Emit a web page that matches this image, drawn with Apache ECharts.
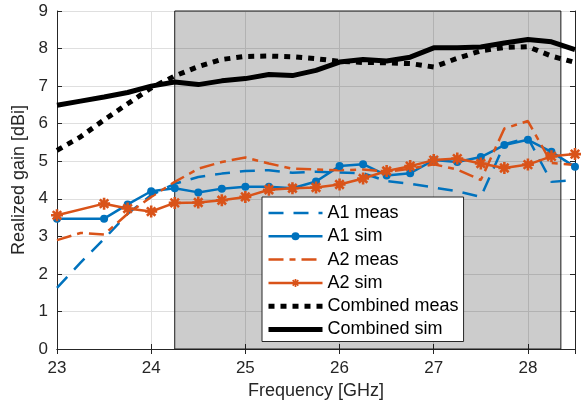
<!DOCTYPE html>
<html>
<head>
<meta charset="utf-8">
<script src="https://cdn.jsdelivr.net/npm/echarts@6/dist/echarts.min.js"></script>
<style>
  html, body { margin: 0; padding: 0; background: #fff; }
  #main { width: 582px; height: 406px; }
</style>
</head>
<body>
<div id="main"></div>
<script>
// frequency grids (GHz)
var freqMeas = [23, 23.25, 23.5, 23.75, 24, 24.25, 24.5, 24.75, 25, 25.25, 25.5, 25.75,
                26, 26.25, 26.5, 26.75, 27, 27.25, 27.5, 27.75, 28, 28.25, 28.5];
var freqSim = [23, 23.5, 23.75, 24, 24.25, 24.5, 24.75, 25, 25.25, 25.5, 25.75,
               26, 26.25, 26.5, 26.75, 27, 27.25, 27.5, 27.75, 28, 28.25, 28.5];

// realized gain (dBi)
var a1Meas = [1.63, 2.3, 2.93, 3.6, 4.1, 4.4, 4.58, 4.67, 4.74, 4.76, 4.69, 4.72,
              4.7, 4.68, 4.47, 4.4, 4.3, 4.2, 4.05, 5.45, 5.62, 4.45, 4.5];
var a1Sim = [3.47, 3.47, 3.85, 4.2, 4.28, 4.17, 4.27, 4.32, 4.32, 4.28, 4.46,
             4.87, 4.92, 4.62, 4.68, 5.03, 4.98, 5.11, 5.43, 5.57, 5.25, 4.85];
var a2Meas = [2.9, 3.09, 3.05, 3.6, 4.05, 4.45, 4.8, 4.98, 5.1, 4.94, 4.8, 4.78,
              4.76, 4.78, 4.72, 4.8, 4.92, 4.78, 4.5, 5.87, 6.07, 4.95, 4.9];
var a2Sim = [3.56, 3.87, 3.74, 3.66, 3.89, 3.9, 3.96, 4.05, 4.24, 4.28, 4.3,
             4.38, 4.54, 4.74, 4.87, 5.03, 5.07, 4.94, 4.82, 4.91, 5.13, 5.19];
var combMeas = [5.29, 5.65, 6.1, 6.53, 6.95, 7.27, 7.52, 7.71, 7.79, 7.8, 7.78, 7.73,
                7.66, 7.63, 7.62, 7.6, 7.51, 7.74, 7.94, 8.03, 8.05, 7.8, 7.63];
var combSim = [6.49, 6.6, 6.71, 6.83, 7.0, 7.11, 7.04, 7.14, 7.2, 7.31, 7.28, 7.42,
               7.64, 7.71, 7.67, 7.77, 8.02, 8.02, 8.04, 8.15, 8.24, 8.18, 7.97];

// shaded band (GHz)
var bandStart = 24.25, bandEnd = 28.35;

var blue = '#0072BD', orange = '#D95319', ink = '#262626';
var font = 'Liberation Sans, Arial, Helvetica, sans-serif';

// asterisk marker like MATLAB '*'
var starPath = 'path://M-1.3,-6L1.3,-6L1.3,6L-1.3,6Z M-6,-1.3L6,-1.3L6,1.3L-6,1.3Z ' +
  'M-3.32,-5.16L5.16,3.32L3.32,5.16L-5.16,-3.32Z M3.32,-5.16L5.16,-3.32L-3.32,5.16L-5.16,3.32Z';

function pairs(xs, ys) {
  var out = [];
  for (var i = 0; i < xs.length; i++) out.push([xs[i], ys[i]]);
  return out;
}

// legend entry without a marker (line only)
var noMarker = { color: 'rgba(0,0,0,0)', opacity: 0, borderWidth: 0 };

var chart = echarts.init(document.getElementById('main'));

var option = {
  animation: false,
  textStyle: { fontFamily: font },
  grid: { left: 57, right: 7, top: 11, bottom: 57, containLabel: false },
  legend: {
    orient: 'vertical',
    left: 262, top: 197,
    padding: [7, 5, 3, 4],
    backgroundColor: '#fff',
    borderColor: ink, borderWidth: 1, borderRadius: 0,
    itemWidth: 54, itemHeight: 10, itemGap: 5.3,
    textStyle: { fontFamily: font, fontSize: 18, color: '#000' },
    data: [
      { name: 'A1 meas', itemStyle: noMarker, lineStyle: { width: 2.5 } },
      { name: 'A1 sim', lineStyle: { width: 2.5 } },
      { name: 'A2 meas', itemStyle: noMarker, lineStyle: { width: 2.5 } },
      { name: 'A2 sim', lineStyle: { width: 2.5 } },
      { name: 'Combined meas', itemStyle: noMarker, lineStyle: { width: 5 } },
      { name: 'Combined sim', itemStyle: noMarker, lineStyle: { width: 5 } }
    ]
  },
  xAxis: [{
    type: 'value', min: 23, max: 28.5, interval: 1,
    name: 'Frequency [GHz]', nameLocation: 'middle', nameGap: 24,
    nameTextStyle: { fontFamily: font, fontSize: 18, color: ink },
    axisLine: { lineStyle: { color: ink, width: 1 } },
    axisTick: { inside: true, length: 5, lineStyle: { color: ink } },
    axisLabel: {
      fontFamily: font, fontSize: 17, color: ink, margin: 11,
      formatter: function (v) { return v % 1 === 0 ? String(v) : ''; }
    },
    splitLine: { show: true, lineStyle: { color: '#dfdfdf', width: 1 } }
  }, {
    type: 'value', position: 'top', min: 23, max: 28.5, interval: 1,
    axisLine: { show: true, lineStyle: { color: ink, width: 1 } },
    axisTick: { show: true, inside: true, length: 5, lineStyle: { color: ink } },
    axisLabel: { show: false }, splitLine: { show: false }
  }],
  yAxis: [{
    type: 'value', min: 0, max: 9, interval: 1,
    name: 'Realized gain [dBi]', nameLocation: 'middle', nameGap: 20,
    nameTextStyle: { fontFamily: font, fontSize: 18, color: ink },
    axisLine: { show: true, lineStyle: { color: ink, width: 1 } },
    axisTick: { show: true, inside: true, length: 5, lineStyle: { color: ink } },
    axisLabel: { fontFamily: font, fontSize: 17, color: ink, margin: 9 },
    splitLine: { show: true, lineStyle: { color: '#dfdfdf', width: 1 } }
  }, {
    type: 'value', position: 'right', min: 0, max: 9, interval: 1,
    axisLine: { show: true, lineStyle: { color: ink, width: 1 } },
    axisTick: { show: true, inside: true, length: 5, lineStyle: { color: ink } },
    axisLabel: { show: false }, splitLine: { show: false }
  }],
  series: [
    {
      name: 'band', type: 'line', data: [], z: 1, silent: true,
      markArea: {
        silent: true,
        itemStyle: { color: 'rgba(0,0,0,0.2)', borderColor: '#1a1a1a', borderWidth: 1 },
        data: [[{ xAxis: bandStart }, { xAxis: bandEnd }]]
      }
    },
    {
      name: 'A1 meas', type: 'line', z: 3, symbol: 'none', showSymbol: false,
      data: pairs(freqMeas, a1Meas),
      itemStyle: { color: blue },
      lineStyle: { color: blue, width: 2.5, type: [15, 10] }
    },
    {
      name: 'A1 sim', type: 'line', z: 3, symbol: 'circle', symbolSize: 8,
      data: pairs(freqSim, a1Sim),
      itemStyle: { color: blue },
      lineStyle: { color: blue, width: 2.5 }
    },
    {
      name: 'A2 meas', type: 'line', z: 3, symbol: 'none', showSymbol: false,
      data: pairs(freqMeas, a2Meas),
      itemStyle: { color: orange },
      lineStyle: { color: orange, width: 2.5, type: [15, 6, 6, 6] }
    },
    {
      name: 'A2 sim', type: 'line', z: 3, symbol: starPath, symbolSize: 12,
      data: pairs(freqSim, a2Sim),
      itemStyle: { color: orange },
      lineStyle: { color: orange, width: 2.5 }
    },
    {
      name: 'Combined meas', type: 'line', z: 3, symbol: 'none', showSymbol: false,
      data: pairs(freqMeas, combMeas),
      itemStyle: { color: '#000' },
      lineStyle: { color: '#000', width: 5, type: [6, 6], cap: 'butt' }
    },
    {
      name: 'Combined sim', type: 'line', z: 3, symbol: 'none', showSymbol: false,
      data: pairs(freqMeas, combSim),
      itemStyle: { color: '#000' },
      lineStyle: { color: '#000', width: 5 }
    }
  ]
};

chart.setOption(option);
</script>
</body>
</html>
